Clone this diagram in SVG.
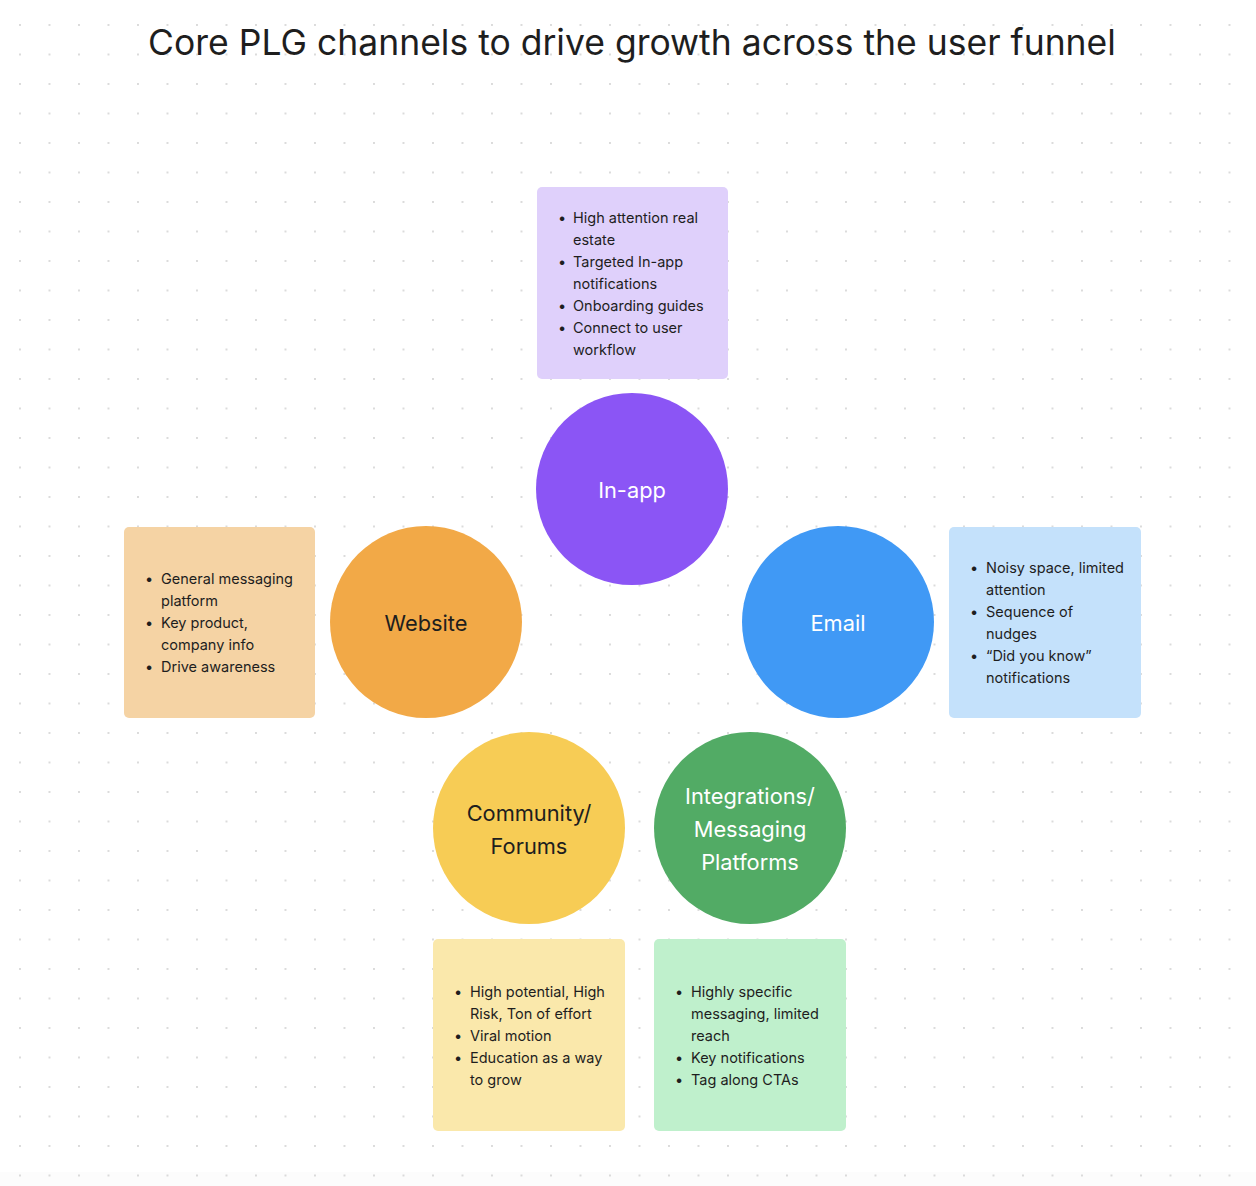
<svg xmlns="http://www.w3.org/2000/svg" width="1256" height="1186" viewBox="0 0 1256 1186">
<defs>
<pattern id="dots" x="19" y="24" width="29.5" height="29.5" patternUnits="userSpaceOnUse">
<circle cx="1" cy="1" r="1" fill="#cfcfcf"/>
</pattern>
<style>
.t{font-family:Inter,"Liberation Sans",sans-serif;}
.note text{font-family:Inter,"Liberation Sans",sans-serif;font-size:14.5px;fill:#1e1e1e;}
.lbl{font-family:Inter,"Liberation Sans",sans-serif;font-size:21.8px;text-anchor:middle;}
.w{fill:#ffffff;}
.d{fill:#1e1e1e;}
</style>
</defs>
<rect width="1256" height="1186" fill="#ffffff"/>
<rect x="0" y="1172" width="1256" height="14" fill="#fcfcfc"/>
<rect width="1256" height="1186" fill="url(#dots)"/>
<text class="t" x="632" y="55" font-size="35.5" text-anchor="middle" fill="#1e1e1e">Core PLG channels to drive growth across the user funnel</text>

<g id="connectors"></g>

<g id="note-inapp" class="note">
<rect x="537" y="187" width="191" height="192" rx="5" fill="#dfd0fb"/>
<text x="558" y="223">•</text><text x="573" y="223">High attention real</text>
<text x="573" y="245">estate</text>
<text x="558" y="267">•</text><text x="573" y="267">Targeted In-app</text>
<text x="573" y="289">notifications</text>
<text x="558" y="311">•</text><text x="573" y="311">Onboarding guides</text>
<text x="558" y="333">•</text><text x="573" y="333">Connect to user</text>
<text x="573" y="355">workflow</text>
</g>

<g id="node-inapp">
<circle cx="632" cy="489" r="96" fill="#8b55f5"/>
<text class="lbl w" x="632" y="498">In-app</text>
</g>

<g id="note-website" class="note">
<rect x="124" y="527" width="191" height="191" rx="5" fill="#f5d3a4"/>
<text x="145" y="584">•</text><text x="161" y="584">General messaging</text>
<text x="161" y="606">platform</text>
<text x="145" y="628">•</text><text x="161" y="628">Key product,</text>
<text x="161" y="650">company info</text>
<text x="145" y="672">•</text><text x="161" y="672">Drive awareness</text>
</g>

<g id="node-website">
<circle cx="426" cy="622" r="96" fill="#f2a947"/>
<text class="lbl d" x="426" y="631" font-size="22.8">Website</text>
</g>

<g id="node-email">
<circle cx="838" cy="622" r="96" fill="#4099f5"/>
<text class="lbl w" x="838" y="631">Email</text>
</g>

<g id="note-email" class="note">
<rect x="949" y="527" width="192" height="191" rx="5" fill="#c4e1fb"/>
<text x="970" y="573">•</text><text x="986" y="573">Noisy space, limited</text>
<text x="986" y="595">attention</text>
<text x="970" y="617">•</text><text x="986" y="617">Sequence of</text>
<text x="986" y="639">nudges</text>
<text x="970" y="661">•</text><text x="986" y="661">“Did you know”</text>
<text x="986" y="683">notifications</text>
</g>

<g id="node-community">
<circle cx="529" cy="828" r="96" fill="#f7cc55"/>
<text class="lbl d" x="529" y="821">Community/</text>
<text class="lbl d" x="529" y="854">Forums</text>
</g>

<g id="node-integrations">
<circle cx="750" cy="828" r="96" fill="#52ab65"/>
<text class="lbl w" x="750" y="804">Integrations/</text>
<text class="lbl w" x="750" y="837">Messaging</text>
<text class="lbl w" x="750" y="870">Platforms</text>
</g>

<g id="note-community" class="note">
<rect x="433" y="939" width="192" height="192" rx="5" fill="#fae8ab"/>
<text x="454" y="997">•</text><text x="470" y="997">High potential, High</text>
<text x="470" y="1019">Risk, Ton of effort</text>
<text x="454" y="1041">•</text><text x="470" y="1041">Viral motion</text>
<text x="454" y="1063">•</text><text x="470" y="1063">Education as a way</text>
<text x="470" y="1085">to grow</text>
</g>

<g id="note-integrations" class="note">
<rect x="654" y="939" width="192" height="192" rx="5" fill="#bff0cc"/>
<text x="675" y="997">•</text><text x="691" y="997">Highly specific</text>
<text x="691" y="1019">messaging, limited</text>
<text x="691" y="1041">reach</text>
<text x="675" y="1063">•</text><text x="691" y="1063">Key notifications</text>
<text x="675" y="1085">•</text><text x="691" y="1085">Tag along CTAs</text>
</g>
</svg>
